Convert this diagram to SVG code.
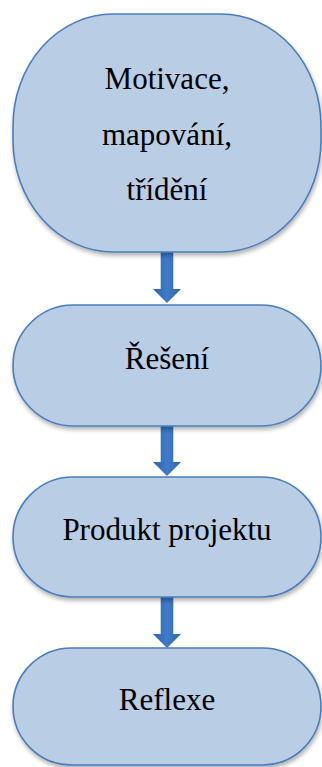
<svg xmlns="http://www.w3.org/2000/svg" width="322" height="767" viewBox="0 0 322 767">
  <style>
    .node { fill: #B9CDE5; stroke: #4A7EBB; stroke-width: 1.6; filter: url(#shadow); }
    .label { font-family: "Liberation Serif", "Times New Roman", serif; font-size: 31px; fill: #000; text-anchor: middle; }
    .arrow { fill: url(#arrowGrad); }
  </style>
  <defs>
    <filter id="shadow" x="-10%" y="-10%" width="125%" height="130%">
      <feDropShadow dx="1" dy="3" stdDeviation="2" flood-color="#000" flood-opacity="0.3"/>
    </filter>
    <linearGradient id="arrowGrad" x1="0" y1="0" x2="1" y2="0">
      <stop offset="0" stop-color="#2E66B3"/>
      <stop offset="0.5" stop-color="#3F7BC8"/>
      <stop offset="1" stop-color="#2E66B3"/>
    </linearGradient>
  </defs>

  <g id="connectors">
    <path class="arrow" d="M160.7,250 H173.3 V289 H181 L167,303 L153,289 H160.7 Z"/>
    <path class="arrow" d="M160.7,424 H173.3 V462 H181 L167,476 L153,462 H160.7 Z"/>
    <path class="arrow" d="M160.7,595 H173.3 V634 H181 L167,648 L153,634 H160.7 Z"/>
  </g>

  <g id="node-motivace">
    <rect class="node" x="13" y="14" width="308" height="238" rx="100" ry="112"/>
    <text class="label" x="167" y="89">Motivace,</text>
    <text class="label" x="167" y="145">mapování,</text>
    <text class="label" x="167" y="200">třídění</text>
  </g>

  <g id="node-reseni">
    <rect class="node" x="13" y="305" width="308" height="121" rx="60.5" ry="60.5"/>
    <text class="label" x="167" y="369">Řešení</text>
  </g>

  <g id="node-produkt">
    <rect class="node" x="13" y="477" width="308" height="120" rx="60" ry="60"/>
    <text class="label" x="167" y="540">Produkt projektu</text>
  </g>

  <g id="node-reflexe">
    <rect class="node" x="13" y="648" width="308" height="117" rx="58.5" ry="58.5"/>
    <text class="label" x="167" y="710">Reflexe</text>
  </g>
</svg>
